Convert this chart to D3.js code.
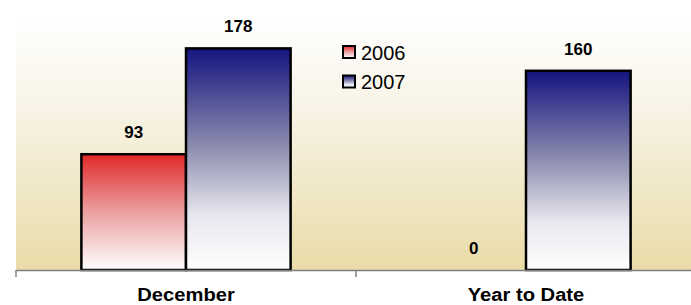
<!DOCTYPE html>
<html><head><meta charset="utf-8">
<script src="https://cdn.jsdelivr.net/npm/d3@7"></script>
<style>body{margin:0;background:#fff;}svg{display:block;font-family:"Liberation Sans",Arial,sans-serif;}</style>
</head><body>
<svg id="c" width="691" height="305"></svg>
<script>
const categories = ["December", "Year to Date"];
const seriesNames = ["2006", "2007"];
const values2006 = [93, 0];
const values2007 = [178, 160];
const yTicks = [0, 200];

const svg = d3.select("#c");
const W = 691, H = 305;
const m = {left: 16, right: -5, top: 21, bottom: 35};
const x0 = d3.scaleBand().domain(categories).range([m.left, W - m.right]).paddingInner(0).paddingOuter(0);
const x1 = d3.scaleBand().domain(seriesNames).range([0, x0.bandwidth()]).paddingInner(0).paddingOuter(0.625);
const y = d3.scaleLinear().domain([0, 200]).range([H - m.bottom, m.top]);

const defs = svg.append("defs");
function vgrad(id, stops){
  const g = defs.append("linearGradient").attr("id", id).attr("x1",0).attr("y1",0).attr("x2",0).attr("y2",1);
  stops.forEach(s => g.append("stop").attr("offset", s[0]).attr("stop-color", s[1]));
}
vgrad("bg", [[0,"#ffffff"],[0.35,"#f8f3e6"],[1,"#e9dca8"]]);
vgrad("red", [[0,"#e02828"],[0.5,"#eba0a0"],[1,"#ffffff"]]);
vgrad("blue", [[0,"#141480"],[0.45,"#8e8eb0"],[0.75,"#e6e6ee"],[1,"#ffffff"]]);
const fills = {"2006":"url(#red)", "2007":"url(#blue)"};

svg.append("rect").attr("x", m.left).attr("y", y(200)).attr("width", W - m.left).attr("height", y(0) - y(200)).attr("fill","url(#bg)");

const data = categories.map((c,i)=>({cat:c, vals:[{s:"2006", v:values2006[i]},{s:"2007", v:values2007[i]}]}));

const g = svg.selectAll("g.cat").data(data).join("g").attr("transform", d=>`translate(${x0(d.cat)},0)`);
g.selectAll("rect").data(d=>d.vals.filter(e=>e.v>0)).join("rect")
  .attr("x", d=>x1(d.s)).attr("y", d=>y(d.v)).attr("width", x1.bandwidth()).attr("height", d=>y(0)-y(d.v))
  .attr("fill", d=>fills[d.s]).attr("stroke","#000").attr("stroke-width",2.5);
g.selectAll("text.val").data(d=>d.vals).join("text").attr("class","val")
  .attr("x", d=>x1(d.s)+x1.bandwidth()/2).attr("y", d=>y(d.v)-16)
  .attr("text-anchor","middle").attr("font-size",17).attr("font-weight","bold").text(d=>d.v);

// axis
const axis = d3.axisBottom(x0).tickSize(0).tickPadding(18);
const ax = svg.append("g").attr("transform", `translate(0,${y(0)})`).call(axis);
ax.select(".domain").attr("stroke","#808080").attr("stroke-width",1.5);
ax.selectAll("text").attr("dy", null).attr("y", 31)
  .attr("font-size",18).attr("font-weight","bold").attr("fill","#000")
  .attr("font-family","'Liberation Sans',Arial,sans-serif")
  .attr("textLength", function(){ return this.getComputedTextLength()*1.12; })
  .attr("lengthAdjust","spacingAndGlyphs");
categories.forEach(c=>{
  svg.append("line").attr("x1", x0(c)).attr("x2", x0(c)).attr("y1", y(0)).attr("y2", y(0)+7).attr("stroke","#808080").attr("stroke-width",1.5);
});

// legend
const lg = svg.append("g").attr("transform","translate(342,45)");
seriesNames.forEach((s,i)=>{
  const row = lg.append("g").attr("transform",`translate(0,${i*29.5})`);
  row.append("rect").attr("x",1).attr("y",1).attr("width",12).attr("height",12).attr("fill",fills[s]).attr("stroke","#000").attr("stroke-width",2);
  row.append("text").attr("x",19).attr("y",14.5).attr("font-size",20).text(s);
});
</script>
</body></html>
